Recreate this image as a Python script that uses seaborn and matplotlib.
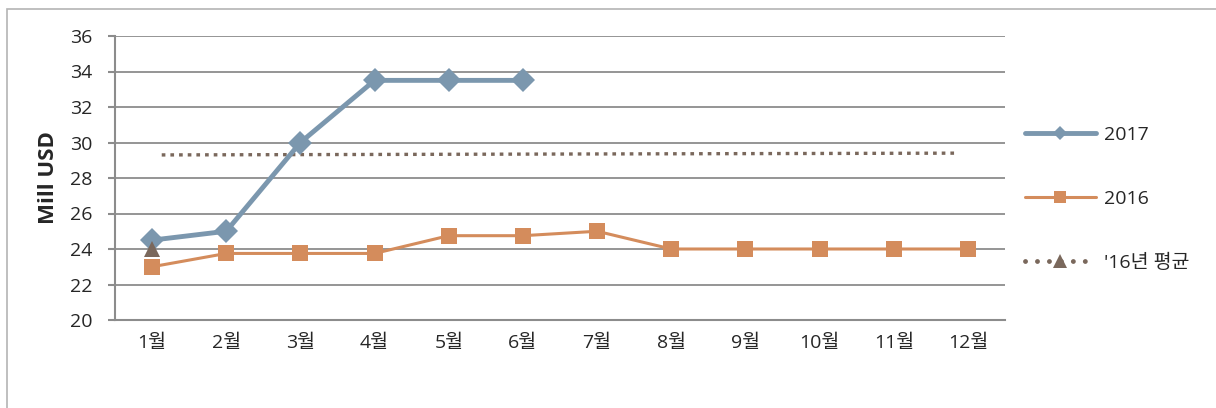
import numpy as np
import pandas as pd
import matplotlib
matplotlib.use('Agg')
import matplotlib.pyplot as plt
import matplotlib.patches as patches
from matplotlib.lines import Line2D
import seaborn as sns

# 데이터
months = ['1월', '2월', '3월', '4월', '5월', '6월', '7월', '8월', '9월', '10월', '11월', '12월']
y2017 = [24.5, 25.0, 30.0, 33.5, 33.5, 33.5, np.nan, np.nan, np.nan, np.nan, np.nan, np.nan]
y2016 = [23.0, 23.75, 23.75, 23.75, 24.75, 24.75, 25.0, 24.0, 24.0, 24.0, 24.0, 24.0]
avg16 = [24.0] + [np.nan] * 11
# 점선 (평균 추세선) 시작/끝
avg_line_x = [0.13, 10.85]
avg_line_y = [29.3, 29.4]
yticks = list(range(20, 37, 2))

c2017 = '#7b97ae'
c2016 = '#d48c5c'
cavg = '#7a685c'
grid_c = '#8c8c8c'

sns.set_style('white')
plt.rcParams['font.family'] = ['Open Sans', 'Noto Sans CJK KR', 'DejaVu Sans']

df = pd.DataFrame({'month': months, '2017': y2017, '2016': y2016, 'avg': avg16})
df['pos'] = np.arange(len(months))
df_line = pd.DataFrame({'x': avg_line_x, 'y': avg_line_y})

fig = plt.figure(figsize=(12.16, 4.08), dpi=100)
ax = fig.add_axes([115 / 1216, 1 - 320 / 408, 890 / 1216, 284 / 408])

sns.lineplot(data=df_line, x='x', y='y', ax=ax, color=cavg, lw=2.4,
             linestyle=(0, (1.1, 1.5)), legend=False)
sns.lineplot(data=df, x='pos', y='2016', ax=ax, color=c2016, lw=2.2,
             marker='s', markersize=11, markeredgewidth=0, legend=False)
sns.lineplot(data=df, x='pos', y='2017', ax=ax, color=c2017, lw=3.5,
             marker='D', markersize=12, markeredgewidth=0, legend=False)
sns.lineplot(data=df, x='pos', y='avg', ax=ax, color=cavg, lw=0,
             marker='^', markersize=12, markeredgewidth=0, legend=False)

ax.set_xlim(-0.5, len(months) - 0.5)
ax.set_ylim(20, 36)
ax.set_yticks(yticks)
ax.set_xticks(df['pos'])
ax.set_xticklabels(months)
ax.set_xticks(np.arange(-0.5, len(months)), minor=True)
ax.tick_params(axis='x', which='major', length=0, pad=10, labelsize=14)
ax.tick_params(axis='x', which='minor', length=6, width=1.5, color=grid_c, direction='out')
ax.tick_params(axis='y', length=5, width=1.5, color=grid_c, pad=11, labelsize=14, left=True)
ax.yaxis.grid(True, color=grid_c, lw=1.3)
ax.set_axisbelow(True)
ax.set_xlabel('')
ax.set_ylabel('Mill USD', fontsize=16, fontweight='bold', labelpad=8)

for s in ['top', 'right']:
    ax.spines[s].set_visible(False)
for s in ['left', 'bottom']:
    ax.spines[s].set_color(grid_c)
    ax.spines[s].set_linewidth(1.5)

handles = [
    Line2D([], [], color=c2017, lw=3.5, marker='D', markersize=7, markeredgewidth=0),
    Line2D([], [], color=c2016, lw=2.2, marker='s', markersize=9, markeredgewidth=0),
    Line2D([], [], color=cavg, lw=3.5, linestyle=(0, (0.01, 2.45)), dash_capstyle='round',
           marker='^', markersize=10, markeredgewidth=0),
]
fig.legend(handles, ['2017', '2016', "'16년 평균"], loc='center left',
           bbox_to_anchor=(1007 / 1216, 1 - 199 / 408), frameon=False,
           fontsize=14, handlelength=3.7, labelspacing=2.35, handletextpad=0.4)

border = patches.Rectangle((7 / 1216, -0.1), 1.2, 1.1 - 9 / 408, transform=fig.transFigure,
                           fill=False, edgecolor='#b4b4b4', lw=1.2, clip_on=False)
fig.patches.append(border)

fig.savefig('out.png', dpi=100)
